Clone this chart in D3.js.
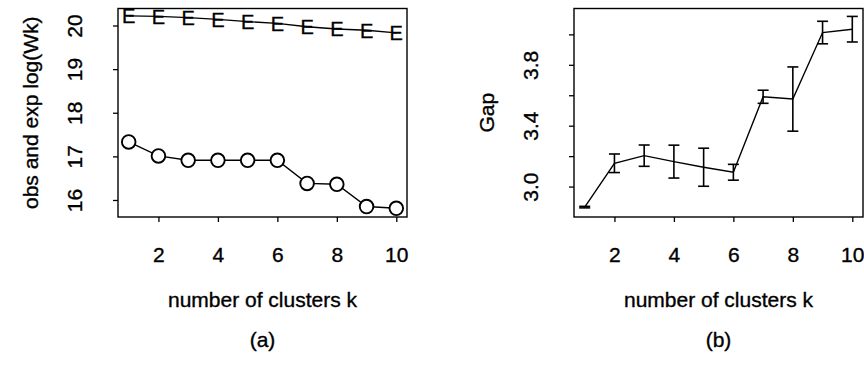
<!DOCTYPE html>
<html>
<head>
<meta charset="utf-8">
<script src="https://cdn.jsdelivr.net/npm/d3@7.9.0/dist/d3.min.js"></script>
<style>
  body { margin: 0; background: #fff; }
  svg text { font-family: "Liberation Sans", Arial, Helvetica, sans-serif; fill: #000; stroke: #000; stroke-width: 0.35px; }
</style>
</head>
<body>
<svg id="chart" width="864" height="371"></svg>
<script>
// number of clusters
const clusters = [1, 2, 3, 4, 5, 6, 7, 8, 9, 10];

// panel (a): expected (E) and observed (O) log(Wk)
const expLogW = [20.22, 20.21, 20.18, 20.14, 20.09, 20.05, 19.97, 19.92, 19.89, 19.83];
const obsLogW = [17.33, 17.01, 16.91, 16.91, 16.91, 16.91, 16.38, 16.36, 15.85, 15.81];

// panel (b): gap statistic and its standard error
const gapValues = [2.865, 3.153, 3.203, 3.164, 3.127, 3.094, 3.590, 3.575, 4.012, 4.034];
const gapSE = [0.005, 0.061, 0.070, 0.108, 0.125, 0.052, 0.043, 0.211, 0.074, 0.084];

const xTicks = [2, 4, 6, 8, 10];
const yTicksA = [16, 17, 18, 19, 20];
const yTicksB = [3.0, 3.2, 3.4, 3.6, 3.8, 4.0];
const yLabelsB = [3.0, 3.4, 3.8];

const svg = d3.select('#chart');
svg.append('rect').attr('width', 864).attr('height', 371).attr('fill', '#fff');

const plotTop = 8.5, plotBottom = 217;
const fontSize = 21;
const ink = '#000';

// draws box, axes and labels for one panel, returns the scales
function drawFrame(left, right, yDomain, yTicks, yFormat, yLabel, tag) {
    const x = d3.scaleLinear().domain([0.64, 10.36]).range([left, right]);
    const y = d3.scaleLinear().domain(yDomain).range([plotBottom, plotTop]);

    const xAxis = svg.append('g')
        .attr('transform', `translate(0,${plotBottom})`)
        .call(d3.axisBottom(x).tickValues(xTicks).tickSize(5).tickFormat(d3.format('d')));
    xAxis.select('.domain').remove();
    xAxis.selectAll('line').attr('stroke', ink).attr('stroke-width', 1.3);
    xAxis.selectAll('text')
        .attr('y', 38).attr('dy', '0.35em')
        .style('font-size', fontSize + 'px');

    const yAxis = svg.append('g')
        .attr('transform', `translate(${left},0)`)
        .call(d3.axisLeft(y).tickValues(yTicks).tickSize(5).tickFormat(yFormat));
    yAxis.select('.domain').remove();
    yAxis.selectAll('line').attr('stroke', ink).attr('stroke-width', 1.3);
    yAxis.selectAll('text')
        .attr('x', 0).attr('y', 0).attr('dy', '0.35em')
        .attr('text-anchor', 'middle')
        .attr('transform', 'translate(-43,0) rotate(-90)')
        .style('font-size', fontSize + 'px');

    svg.append('rect')
        .attr('x', left).attr('y', plotTop)
        .attr('width', right - left).attr('height', plotBottom - plotTop)
        .attr('fill', 'none').attr('stroke', ink).attr('stroke-width', 1.4);

    const midX = (left + right) / 2;
    svg.append('text')
        .attr('transform', `translate(${left - 87},${(plotTop + plotBottom) / 2}) rotate(-90)`)
        .attr('text-anchor', 'middle').attr('dy', '0.35em')
        .style('font-size', fontSize + 'px')
        .text(yLabel);
    svg.append('text')
        .attr('x', midX).attr('y', 300).attr('dy', '0.35em')
        .attr('text-anchor', 'middle')
        .style('font-size', fontSize + 'px')
        .text('number of clusters k');
    svg.append('text')
        .attr('x', midX).attr('y', 340).attr('dy', '0.35em')
        .attr('text-anchor', 'middle')
        .style('font-size', fontSize + 'px')
        .text(tag);

    return { x, y };
}

// Panel (a)
const a = drawFrame(118, 407, [15.61, 20.39], yTicksA, d3.format('d'), 'obs and exp log(Wk)', '(a)');
const lineA = d3.line().x((d, i) => a.x(clusters[i])).y(d => a.y(d));

svg.append('path').datum(expLogW)
    .attr('d', lineA).attr('fill', 'none').attr('stroke', ink).attr('stroke-width', 1.4);
svg.append('path').datum(obsLogW)
    .attr('d', lineA).attr('fill', 'none').attr('stroke', ink).attr('stroke-width', 1.4);

svg.selectAll('.mark-e').data(expLogW).join('text')
    .attr('class', 'mark-e')
    .attr('x', (d, i) => a.x(clusters[i]))
    .attr('y', d => a.y(d))
    .attr('dy', '0.36em')
    .attr('text-anchor', 'middle')
    .style('font-size', '20px')
    .text('E');

svg.selectAll('.mark-o').data(obsLogW).join('circle')
    .attr('class', 'mark-o')
    .attr('cx', (d, i) => a.x(clusters[i]))
    .attr('cy', d => a.y(d))
    .attr('r', 6.8)
    .attr('fill', '#fff').attr('stroke', ink).attr('stroke-width', 1.9);

// Panel (b)
const b = drawFrame(574, 863, [2.80, 4.17], yTicksB,
    d => yLabelsB.some(v => Math.abs(v - d) < 1e-9) ? d3.format('.1f')(d) : '',
    'Gap', '(b)');
const lineB = d3.line().x((d, i) => b.x(clusters[i])).y(d => b.y(d));

svg.append('path').datum(gapValues)
    .attr('d', lineB).attr('fill', 'none').attr('stroke', ink).attr('stroke-width', 1.4);

const capW = 5.5;
const bars = svg.append('g').attr('stroke', ink).attr('stroke-width', 1.6);
gapValues.forEach((g, i) => {
    const cx = b.x(clusters[i]);
    const hi = b.y(g + gapSE[i]);
    const lo = b.y(g - gapSE[i]);
    bars.append('line').attr('x1', cx).attr('x2', cx).attr('y1', hi).attr('y2', lo);
    bars.append('line').attr('x1', cx - capW).attr('x2', cx + capW).attr('y1', hi).attr('y2', hi);
    bars.append('line').attr('x1', cx - capW).attr('x2', cx + capW).attr('y1', lo).attr('y2', lo);
});
</script>
</body>
</html>
